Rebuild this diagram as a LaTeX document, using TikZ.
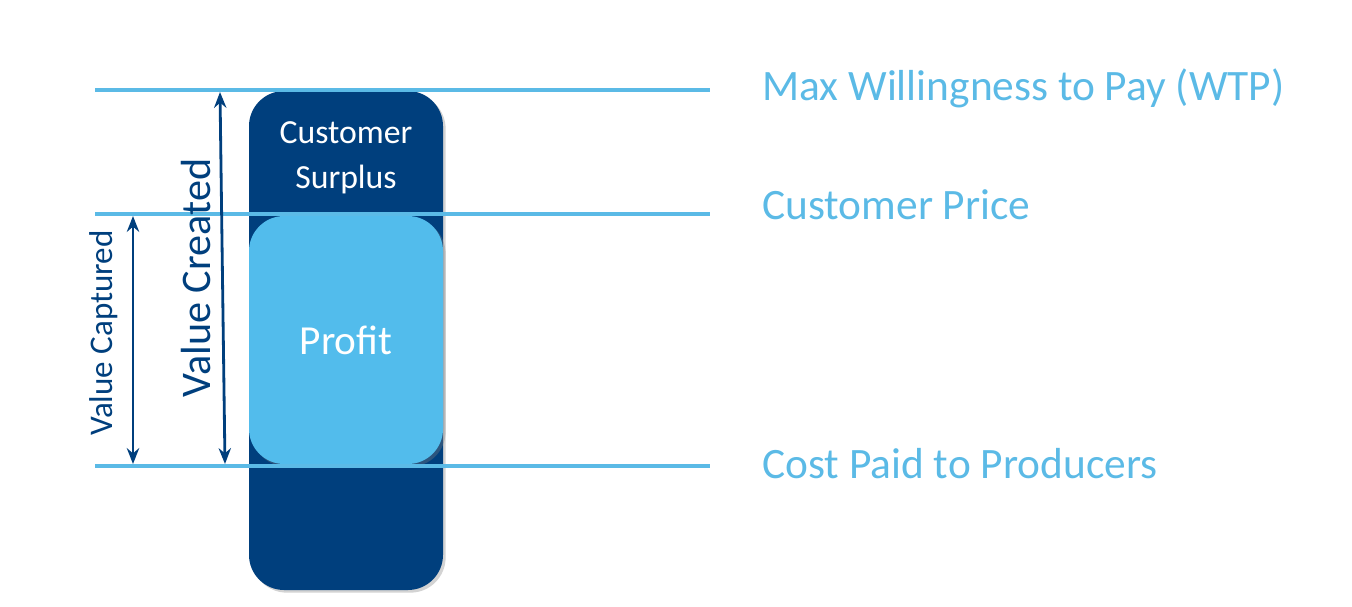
\documentclass[tikz,border=0pt]{standalone}
\usepackage{fontspec}
\setmainfont{Carlito}
\usepackage{tikz}
\usetikzlibrary{shadows,arrows.meta}
\usepackage{xcolor}
\definecolor{navy}{HTML}{003F7D}
\definecolor{skyb}{HTML}{52BCEC}
\definecolor{levelb}{HTML}{5BBAE6}

\begin{document}
\begin{tikzpicture}[x=0.02cm,y=-0.02cm,
    level/.style={levelb,line width=2pt},
    span/.style={navy,line width=1.6pt,{Stealth[length=9pt,width=7pt]}-{Stealth[length=9pt,width=7pt]}},
    lvltext/.style={anchor=west,text=levelb,inner sep=0pt,font=\fontsize{24.7}{29}\selectfont},
    barbox/.style={rounded corners=20pt,drop shadow={opacity=0.35,shadow xshift=1.5pt,shadow yshift=-1.5pt}}]
        \useasboundingbox (0,0) rectangle (1352,606);
        % bar and profit block
        \fill[navy,barbox] (249,91) rectangle (443,590);
        \fill[skyb,barbox] (249,216) rectangle (443,464);
        \node[white,align=center,inner sep=0pt,font=\fontsize{19.2}{25.5}\selectfont] (surplus) at (346,158) {Customer\\Surplus};
        \node[white,inner sep=0pt,font=\fontsize{23.5}{28}\selectfont] (profit) at (346,340) {Profit};
        % levels
        \coordinate (wtpL) at (95,90);   \coordinate (wtpR) at (710,90);
        \coordinate (priceL) at (95,214); \coordinate (priceR) at (710,214);
        \coordinate (costL) at (95,466);  \coordinate (costR) at (710,466);
        \draw[level] (wtpL) -- (wtpR);
        \draw[level] (priceL) -- (priceR);
        \draw[level] (costL) -- (costR);
        \node[lvltext] (wtp) at (762,88) {Max Willingness to Pay (WTP)};
        \node[lvltext] (price) at (762,205) {Customer Price};
        \node[lvltext] (cost) at (762,464) {Cost Paid to Producers};
        % spans
        \coordinate (crTop) at (220,92);  \coordinate (crBot) at (225,464);
        \coordinate (cpTop) at (133,216); \coordinate (cpBot) at (133,464);
        \draw[span] (crTop) -- (crBot);
        \draw[span] (cpTop) -- (cpBot);
        \node[navy,rotate=90,inner sep=0pt,font=\fontsize{24}{28}\selectfont] (created) at (196,278) {Value Created};
        \node[navy,rotate=90,inner sep=0pt,font=\fontsize{18.8}{22}\selectfont] (captured) at (104,333) {Value Captured};
      \end{tikzpicture}
\end{document}
